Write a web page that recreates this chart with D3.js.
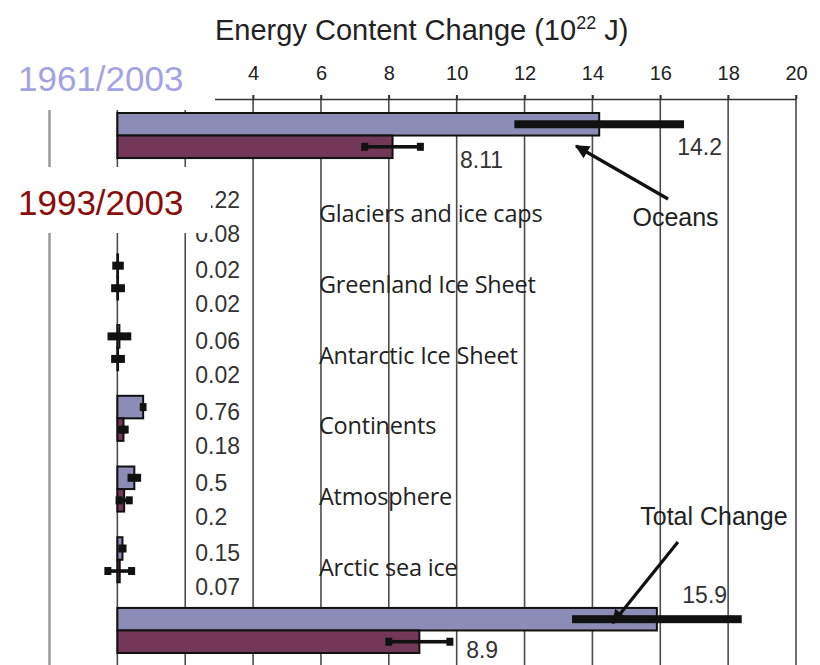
<!DOCTYPE html>
<html>
<head>
<meta charset="utf-8">
<script src="https://cdn.jsdelivr.net/npm/d3@7"></script>
<style>
  body { margin: 0; background: #fff; }
  svg { display: block; }
</style>
</head>
<body>
<svg id="chart" width="820" height="665"></svg>
<script>
// Heat content change by component, two averaging periods (units of 10^22 J)
const categories = ["Oceans", "Glaciers and ice caps", "Greenland Ice Sheet", "Antarctic Ice Sheet",
                    "Continents", "Atmosphere", "Arctic sea ice", "Total Change"];
const periods = ["1961/2003", "1993/2003"];
const values1961 = [14.2, 0.22, 0.02, 0.06, 0.76, 0.5, 0.15, 15.9];
const errors1961 = [2.5, 0.06, 0.17, 0.35, 0.1, 0.2, 0.12, 2.5];
const values1993 = [8.11, 0.08, 0.02, 0.02, 0.18, 0.2, 0.07, 8.9];
const errors1993 = [0.82, 0.02, 0.1, 0.1, 0.05, 0.15, 0.35, 0.9];
const tickValues = [-2, 0, 2, 4, 6, 8, 10, 12, 14, 16, 18, 20];
const labelledTicks = [4, 6, 8, 10, 12, 14, 16, 18, 20];

const W = 820, H = 665;
const colors = { "1961/2003": "#8c8cb6", "1993/2003": "#733858" };
const labelColors = { "1961/2003": "#a3a3e3", "1993/2003": "#8a0c0c" };
const numFont = "'Liberation Sans', Arial, sans-serif";
const catFont = "'Open Sans', 'Noto Sans', sans-serif";

const rows = categories.map((c, i) => ({
  category: c,
  series: [
    { period: periods[0], value: values1961[i], err: errors1961[i] },
    { period: periods[1], value: values1993[i], err: errors1993[i] }
  ]
}));

const svg = d3.select("#chart");

const x = d3.scaleLinear().domain([-2, 20]).range([49.5, 796]);
const y = d3.scaleBand().domain(categories).range([113, 653]).paddingInner(0.3626);
const sub = d3.scaleBand().domain(periods).range([0, y.bandwidth()]);

// vertical gridlines
svg.append("g").selectAll("line")
  .data(tickValues)
  .join("line")
  .attr("x1", d => x(d)).attr("x2", d => x(d))
  .attr("y1", 95).attr("y2", H)
  .attr("stroke", d => d < 0 ? "#9a9a9a" : "#4d4d4d")
  .attr("stroke-width", d => d < 0 ? 2.5 : 1.6);

// top axis (labels only where the scale is not under the legend panel)
const axis = svg.append("g")
  .attr("transform", "translate(0,99)")
  .call(d3.axisTop(x).tickValues(tickValues).tickSize(4).tickSizeOuter(0).tickPadding(15)
    .tickFormat(d => labelledTicks.includes(d) ? d : ""));
axis.select(".domain").attr("stroke", "#333").attr("stroke-width", 1.6);
axis.selectAll(".tick line").attr("stroke", "#333").attr("stroke-width", 1.6);
axis.selectAll(".tick text")
  .attr("font-family", numFont).attr("font-size", 20).attr("fill", "#222");

// category names for the small components
svg.append("g").selectAll("text")
  .data(rows.slice(1, 7))
  .join("text")
  .attr("x", x(6) - 2)
  .attr("y", d => y(d.category) + y.bandwidth() / 2 + 7)
  .attr("dominant-baseline", "central")
  .attr("font-family", catFont).attr("font-size", 23.5)
  .attr("letter-spacing", -0.2)
  .attr("fill", "#222")
  .text(d => d.category);

// bars
const groups = svg.append("g").selectAll("g")
  .data(rows)
  .join("g")
  .attr("transform", d => `translate(0,${y(d.category)})`);

groups.selectAll("rect.bar")
  .data(d => d.series)
  .join("rect")
  .attr("class", "bar")
  .attr("x", x(0))
  .attr("y", d => sub(d.period))
  .attr("width", d => x(d.value) - x(0))
  .attr("height", sub.bandwidth())
  .attr("fill", d => colors[d.period])
  .attr("stroke", "#111")
  .attr("stroke-width", 2);

// error bars: heavy bar for the long period, capped line for the short one
groups.selectAll("g.err")
  .data(d => d.series)
  .join("g")
  .attr("class", "err")
  .each(function (d) {
    const g = d3.select(this);
    const cy = sub(d.period) + sub.bandwidth() / 2;
    const x0 = x(d.value - d.err), x1 = x(d.value + d.err);
    if (d.period === periods[0]) {
      g.append("rect")
        .attr("x", x0).attr("y", cy - 4)
        .attr("width", x1 - x0).attr("height", 8)
        .attr("fill", "#111");
    } else {
      g.append("rect")
        .attr("x", x0).attr("y", cy - 1.8)
        .attr("width", x1 - x0).attr("height", 3.6)
        .attr("fill", "#111");
      [x0, x1].forEach(xx => {
        g.append("rect")
          .attr("x", xx - 3.5).attr("y", cy - 4)
          .attr("width", 7).attr("height", 8)
          .attr("fill", "#111");
      });
    }
  });

// value labels for the small components
const smallLabels = rows.slice(1, 7).flatMap(r => r.series.map(s => ({ category: r.category, ...s })));
svg.append("g").selectAll("text")
  .data(smallLabels)
  .join("text")
  .attr("x", x(2) + 10)
  .attr("y", d => y(d.category) + (d.period === periods[0] ? 16 : 50))
  .attr("dominant-baseline", "central")
  .attr("font-family", numFont).attr("font-size", 23)
  .attr("fill", "#333")
  .text(d => String(d.value));

// value labels for oceans and total (position in data units / offset from band top)
const bigLabelPos = [
  { category: "Oceans", period: periods[0], at: 16.5, dy: 34 },
  { category: "Oceans", period: periods[1], at: 10.1, dy: 47 },
  { category: "Total Change", period: periods[0], at: 16.65, dy: -13 },
  { category: "Total Change", period: periods[1], at: 10.28, dy: 42 }
];
svg.append("g").selectAll("text")
  .data(bigLabelPos)
  .join("text")
  .attr("x", d => x(d.at))
  .attr("y", d => y(d.category) + d.dy)
  .attr("dominant-baseline", "central")
  .attr("font-family", numFont).attr("font-size", 23)
  .attr("fill", "#333")
  .text(d => {
    const r = rows.find(r => r.category === d.category);
    return String(r.series.find(s => s.period === d.period).value);
  });

// period legend labels on white panels
const legend = [
  { period: periods[0], box: [0, 50, 215, 60], ty: 78 },
  { period: periods[1], box: [0, 167, 211, 66], ty: 202 }
];
legend.forEach(l => {
  svg.append("rect")
    .attr("x", l.box[0]).attr("y", l.box[1])
    .attr("width", l.box[2]).attr("height", l.box[3])
    .attr("fill", "#fff");
  svg.append("text")
    .attr("x", 18).attr("y", l.ty)
    .attr("dominant-baseline", "central")
    .attr("font-family", numFont).attr("font-size", 35)
    .attr("fill", labelColors[l.period])
    .text(l.period);
});

// title
const title = svg.append("text")
  .attr("x", 215).attr("y", 40)
  .attr("font-family", numFont).attr("font-size", 29)
  .attr("fill", "#222");
title.append("tspan").text("Energy Content Change (10");
title.append("tspan").attr("font-size", 18).attr("dy", -11).text("22");
title.append("tspan").attr("dy", 11).text(" J)");

// callouts with arrows
svg.append("defs").append("marker")
  .attr("id", "head")
  .attr("viewBox", "0 0 10 10")
  .attr("refX", 9).attr("refY", 5)
  .attr("markerWidth", 17).attr("markerHeight", 14)
  .attr("markerUnits", "userSpaceOnUse")
  .attr("orient", "auto")
  .append("path").attr("d", "M0,0L10,5L0,10Z").attr("fill", "#111");

const callouts = [
  { category: "Oceans", text: "Oceans", tx: 15.18, ty: 104, from: [16.23, 86], to: [13.52, 33] },
  { category: "Total Change", text: "Total Change", tx: 15.41, ty: -92, from: [16.52, -66], to: [14.6, 15] }
];
callouts.forEach(c => {
  const top = y(c.category);
  svg.append("line")
    .attr("x1", x(c.from[0])).attr("y1", top + c.from[1])
    .attr("x2", x(c.to[0])).attr("y2", top + c.to[1])
    .attr("stroke", "#111").attr("stroke-width", 3.2)
    .attr("marker-end", "url(#head)");
  svg.append("text")
    .attr("x", x(c.tx)).attr("y", top + c.ty)
    .attr("dominant-baseline", "central")
    .attr("font-family", numFont).attr("font-size", 25)
    .attr("fill", "#222")
    .text(c.text);
});
</script>
</body>
</html>
